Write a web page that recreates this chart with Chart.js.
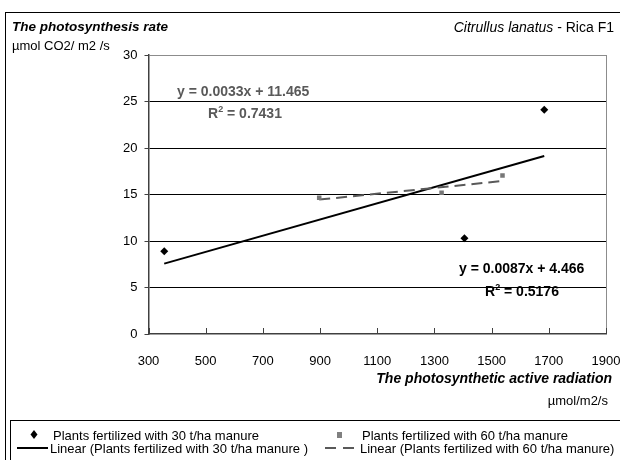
<!DOCTYPE html>
<html>
<head>
<meta charset="utf-8">
<script src="https://cdn.jsdelivr.net/npm/chart.js@4.4.1/dist/chart.umd.min.js"></script>
<style>
  html, body { margin: 0; padding: 0; background: #fff; }
  body { width: 620px; height: 460px; position: relative; overflow: hidden;
         font-family: "Liberation Sans", Arial, sans-serif; }
  #wrap { position: absolute; left: 0; top: 0; width: 620px; height: 460px; }
  .t { position: absolute; white-space: nowrap; color: #000; line-height: 1; }
  #frame { position: absolute; left: 5px; top: 12px; width: 640px; height: 460px; border-left: 1px solid #000; border-top: 1px solid #000; }
  #legend { position: absolute; left: 10px; top: 420px; width: 640px; height: 60px; border: 1px solid #000; }
  .li { position: absolute; font-size: 13px; white-space: nowrap; line-height: 1; }
  .sym { position: absolute; }
</style>
</head>
<body>
<div id="frame"></div>
<div id="wrap"><canvas id="c" width="620" height="460"></canvas></div>
<div class="t" style="left:12px; top:20px; font-size:13.5px; font-weight:bold; font-style:italic;">The photosynthesis rate</div>
<div class="t" style="left:12px; top:39px; font-size:13px;">µmol CO2/ m2 /s</div>
<div class="t" style="right:6px; top:20px; font-size:14px;"><i>Citrullus lanatus</i> - Rica F1</div>
<div class="t" style="right:8px; top:371px; font-size:14px; font-weight:bold; font-style:italic;">The photosynthetic active radiation</div>
<div class="t" style="right:12px; top:394px; font-size:13px;">µmol/m2/s</div>
<div class="t" style="left:177px; top:84px; font-size:14px; font-weight:bold; color:#595959;">y = 0.0033x + 11.465</div>
<div class="t" style="left:208px; top:105px; font-size:14px; font-weight:bold; color:#595959;">R<sup style="font-size:9px; vertical-align:6px;">2</sup> = 0.7431</div>
<div class="t" style="left:459px; top:261px; font-size:14px; font-weight:bold;">y = 0.0087x + 4.466</div>
<div class="t" style="left:485px; top:283px; font-size:14px; font-weight:bold;">R<sup style="font-size:9px; vertical-align:6px;">2</sup> = 0.5176</div>
<div id="legend"></div>
<script>
// ---- data ----
const seriesNames = [
  "Plants fertilized with 30 t/ha manure",
  "Plants fertilized with 60 t/ha manure",
  "Linear (Plants fertilized with 30 t/ha manure )",
  "Linear (Plants fertilized with 60 t/ha manure)"
];
const radiation30 = [355, 1405, 1684];
const rate30 = [8.9, 10.3, 24.1];
const radiation60 = [897, 1325, 1538];
const rate60 = [14.65, 15.2, 17.05];
// trendline end points as drawn in the picture
const trend30X = [355, 1684];
const trend30Y = [7.57, 19.14];
const trend60X = [897, 1538];
const trend60Y = [14.45, 16.45];
const xTicks = [300, 500, 700, 900, 1100, 1300, 1500, 1700, 1900];
const yTicks = [0, 5, 10, 15, 20, 25, 30];

const pts = (xs, ys) => xs.map((x, i) => ({ x: x, y: ys[i] }));

// legend (HTML)
const lg = document.getElementById('legend');
const legendItems = [
  { name: seriesNames[0], tx: 42, y: 8, sx: 18, sy: 8, sym: '<svg width="10" height="12"><polygon points="5,1 8.5,5.5 5,10 1.5,5.5" fill="#000"/></svg>' },
  { name: seriesNames[1], tx: 351, y: 8, sx: 325, sy: 10, sym: '<svg width="8" height="9"><rect x="1" y="1" width="5" height="6" fill="#808080"/></svg>' },
  { name: seriesNames[2], tx: 39, y: 21, sx: 6, sy: 25, sym: '<svg width="34" height="4" style="display:block"><line x1="0" y1="2" x2="31" y2="2" stroke="#000" stroke-width="2"/></svg>' },
  { name: seriesNames[3], tx: 349, y: 21, sx: 314, sy: 25, sym: '<svg width="34" height="4" style="display:block"><line x1="0" y1="2" x2="31" y2="2" stroke="#595959" stroke-width="2" stroke-dasharray="11,7"/></svg>' }
];
legendItems.forEach(it => {
  const s = document.createElement('div');
  s.style.cssText = 'position:absolute;left:' + it.sx + 'px;top:' + it.sy + 'px;line-height:0;';
  s.innerHTML = it.sym;
  lg.appendChild(s);
  const d = document.createElement('div');
  d.className = 'li';
  d.style.left = it.tx + 'px';
  d.style.top = it.y + 'px';
  d.textContent = it.name;
  lg.appendChild(d);
});

const innerTicks = {
  id: 'innerTicks',
  afterDatasetsDraw(chart) {
    const ctx = chart.ctx, xs = chart.scales.x, a = chart.chartArea;
    ctx.save();
    ctx.strokeStyle = '#404040';
    ctx.lineWidth = 1;
    xTicks.forEach(v => {
      const px = Math.round(xs.getPixelForValue(v)) + 0.5;
      ctx.beginPath();
      ctx.moveTo(px, a.bottom);
      ctx.lineTo(px, a.bottom - 6);
      ctx.stroke();
    });
    ctx.restore();
  }
};

const tickFont = { family: '"Liberation Sans", Arial', size: 13 };

new Chart(document.getElementById('c'), {
  type: 'scatter',
  data: {
    datasets: [
      { label: seriesNames[2], type: 'line', data: pts(trend30X, trend30Y), borderColor: '#000', borderWidth: 2, pointRadius: 0, fill: false, order: 3 },
      { label: seriesNames[3], type: 'line', data: pts(trend60X, trend60Y), borderColor: '#595959', borderWidth: 2, borderDash: [11, 6], pointRadius: 0, fill: false, order: 2 },
      { label: seriesNames[0], data: pts(radiation30, rate30), pointStyle: 'rectRot', pointRadius: 4, backgroundColor: '#000', borderColor: '#000', borderWidth: 0, order: 1 },
      { label: seriesNames[1], data: pts(radiation60, rate60), pointStyle: 'rect', pointRadius: 3.2, backgroundColor: '#777', borderColor: '#777', borderWidth: 0, order: 1 }
    ]
  },
  options: {
    responsive: false,
    animation: false,
    events: [],
    layout: { padding: { left: 0, top: 55, right: 14, bottom: 0 } },
    plugins: { legend: { display: false }, tooltip: { enabled: false } },
    scales: {
      x: {
        type: 'linear', min: 300, max: 1900,
        afterBuildTicks: s => { s.ticks = xTicks.map(v => ({ value: v })); },
        afterFit: s => { s.height = 126; s.paddingLeft = 0; s.paddingRight = 0; },
        border: { display: true, color: '#404040', width: 1.5 },
        grid: { drawTicks: false, drawOnChartArea: true, lineWidth: 1,
                color: c => (c.tick && c.tick.value === 1900) ? '#8c8c8c' : 'rgba(0,0,0,0)' },
        ticks: { padding: 20, color: '#000', font: tickFont, callback: v => String(v) }
      },
      y: {
        min: 0, max: 30,
        afterBuildTicks: s => { s.ticks = yTicks.map(v => ({ value: v })); },
        afterFit: s => { s.width = 148.5; s.paddingTop = 0; s.paddingBottom = 0; },
        border: { display: true, color: '#404040', width: 1.5 },
        grid: { drawTicks: true, tickLength: 4, lineWidth: 1, tickColor: '#404040',
                color: c => (c.tick && c.tick.value === 30) ? '#8c8c8c' : (c.tick && c.tick.value === 0 ? 'rgba(0,0,0,0)' : '#000') },
        ticks: { padding: 7, color: '#000', font: tickFont, callback: v => String(v) }
      }
    }
  },
  plugins: [innerTicks]
});
</script>
</body>
</html>
